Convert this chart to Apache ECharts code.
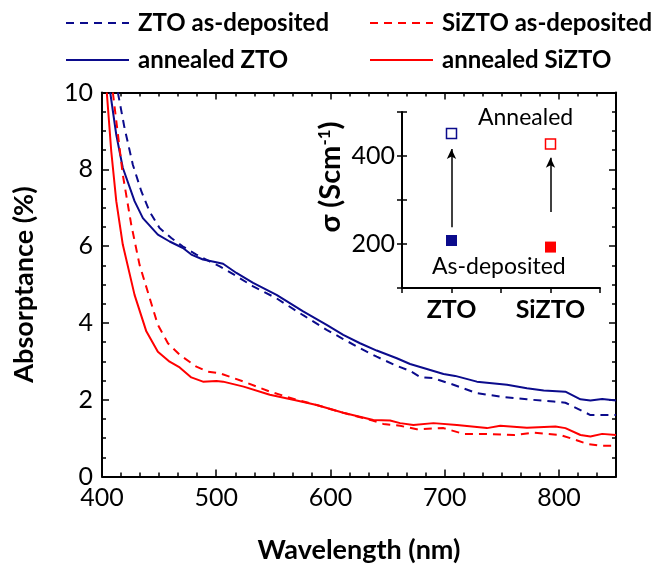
<!DOCTYPE html>
<html>
<head>
<meta charset="utf-8">
<script src="https://cdn.jsdelivr.net/npm/echarts@6/dist/echarts.min.js"></script>
<style>
  html, body { margin: 0; padding: 0; background: #fff; }
  #chart { width: 655px; height: 569px; }
</style>
</head>
<body>
<div id="chart"></div>
<script>
// Absorptance spectra (wavelength in nm, absorptance in %)
const ztoDepWl  = [413.9, 419.7, 427, 434.4, 441.7, 450.4, 460.7, 470.9, 482.6, 494.3, 503.1, 517.7, 532.3, 552.8, 576.1, 596.7, 611.2, 625.9, 640.5, 658.1, 669.7, 678.5, 690.2, 707.7, 728.2, 748.7, 772, 795.4, 805.7, 818.9, 827.6, 850];
const ztoDepAbs = [10.0, 9.08, 8.12, 7.43, 6.90, 6.47, 6.21, 5.99, 5.78, 5.60, 5.47, 5.22, 4.95, 4.64, 4.20, 3.82, 3.58, 3.34, 3.12, 2.88, 2.75, 2.59, 2.56, 2.39, 2.17, 2.08, 2.01, 1.95, 1.92, 1.73, 1.60, 1.60];

const ztoAnnWl  = [407.2, 412.5, 418.2, 428.5, 435.8, 448.9, 459.2, 470.9, 478.2, 488.4, 500, 506, 517.7, 532.3, 552.8, 576.1, 596.7, 611.2, 625.9, 640.5, 658.1, 669.7, 684.4, 699, 709.2, 728.2, 754.6, 772, 786.7, 805.7, 818.9, 827.6, 837.9, 850];
const ztoAnnAbs = [10.0, 8.90, 8.04, 7.17, 6.73, 6.30, 6.12, 5.95, 5.78, 5.65, 5.58, 5.54, 5.30, 5.04, 4.73, 4.30, 3.95, 3.69, 3.47, 3.28, 3.08, 2.93, 2.80, 2.67, 2.62, 2.47, 2.39, 2.30, 2.24, 2.21, 2.01, 1.98, 2.02, 1.98];

const siztoDepWl  = [409.5, 418.2, 425.6, 432.9, 441.7, 448.9, 457.7, 468, 482.6, 492.8, 503.1, 524, 546.9, 570.4, 587.9, 611.2, 637.5, 646.3, 661, 675.6, 699, 716.5, 737, 760.4, 778, 801.3, 813, 824.7, 836.4, 850];
const siztoDepAbs = [10.0, 7.86, 6.56, 5.51, 4.65, 3.95, 3.47, 3.17, 2.86, 2.73, 2.69, 2.47, 2.21, 2.00, 1.86, 1.66, 1.45, 1.37, 1.32, 1.23, 1.26, 1.11, 1.11, 1.08, 1.14, 1.08, 0.97, 0.85, 0.80, 0.80];

const siztoAnnWl  = [404.2, 408.1, 412.5, 418.2, 428.5, 438.8, 448.9, 459.2, 468, 478.2, 488.4, 500.2, 506, 524, 546.9, 570.4, 587.9, 611.2, 637.5, 652.2, 661, 672.6, 690.2, 710.7, 737, 748.7, 772, 797, 805.7, 818.9, 827.6, 837.9, 850];
const siztoAnnAbs = [10.0, 8.47, 7.17, 6.04, 4.73, 3.78, 3.25, 2.99, 2.84, 2.58, 2.47, 2.49, 2.47, 2.34, 2.13, 1.98, 1.86, 1.66, 1.47, 1.46, 1.39, 1.34, 1.39, 1.34, 1.26, 1.32, 1.27, 1.30, 1.26, 1.08, 1.04, 1.11, 1.08];

// Conductivity inset (S/cm)
const samples        = ['ZTO', 'SiZTO'];
const sigmaDeposited = [208, 193];
const sigmaAnnealed  = [451, 427];
const arrowFrom      = [238, 273];
const arrowTo        = [416, 396];

const NAVY = '#0b0b8c';
const RED = '#ff0000';
const FONT = 'Lato';

const pairs = (xs, ys) => xs.map((x, i) => [x, ys[i]]);

const chart = echarts.init(document.getElementById('chart'), null, { renderer: 'canvas' });

const boxAxisLine = { show: true, onZero: false, lineStyle: { color: '#000', width: 2 } };
const tickLabel = { fontFamily: FONT, fontSize: 25, color: '#000' };

function lineSeries(name, wl, abs, color, dashed) {
  return {
    name, type: 'line', xAxisIndex: 0, yAxisIndex: 0,
    data: pairs(wl, abs),
    symbol: 'none', smooth: false, clip: true,
    lineStyle: { color, width: 2, type: dashed ? [8, 6] : 'solid' },
    itemStyle: { color },
    z: 3
  };
}

// one legend per entry so the two columns line up
function legendAt(name, left, top) {
  return {
    data: [name], left, top, padding: 0,
    itemWidth: 63, itemHeight: 14,
    itemStyle: { opacity: 0 },
    textStyle: { fontFamily: FONT, fontSize: 24, fontWeight: 'bold', color: '#000', padding: [0, 0, 0, 4] },
    selectedMode: false
  };
}

const option = {
  animation: false,
  backgroundColor: '#fff',
  legend: [
    legendAt('ZTO as-deposited', 65, 11),
    legendAt('annealed ZTO', 65, 48),
    legendAt('SiZTO as-deposited', 369, 11),
    legendAt('annealed SiZTO', 369, 48)
  ],
  grid: [
    { left: 102, top: 92.5, width: 514, height: 384, containLabel: false },
    { left: 402, top: 112, width: 198, height: 176, containLabel: false }
  ],
  xAxis: [
    {
      gridIndex: 0, type: 'value', position: 'bottom', min: 400, max: 850, interval: 100,
      axisLine: boxAxisLine,
      axisTick: { show: true, inside: true, length: 7, lineStyle: { color: '#000', width: 1.5 } },
      minorTick: { show: true, splitNumber: 6, length: 4, lineStyle: { color: '#000', width: 1.5 } },
      splitLine: { show: false }, minorSplitLine: { show: false },
      axisLabel: Object.assign({ margin: 9, formatter: v => (v % 100 === 0 ? String(v) : '') }, tickLabel),
      name: 'Wavelength (nm)', nameLocation: 'middle', nameGap: 60,
      nameTextStyle: { fontFamily: FONT, fontSize: 27, fontWeight: 'bold', color: '#000' }
    },
    {
      gridIndex: 0, type: 'value', position: 'top', min: 400, max: 850, interval: 100,
      axisLine: boxAxisLine,
      axisTick: { show: true, inside: true, length: 7, lineStyle: { color: '#000', width: 1.5 } },
      minorTick: { show: true, splitNumber: 6, length: 4, lineStyle: { color: '#000', width: 1.5 } },
      splitLine: { show: false }, axisLabel: { show: false }
    },
    {
      gridIndex: 1, type: 'value', position: 'bottom', min: 0.5, max: 2.5, interval: 0.5,
      axisLine: boxAxisLine,
      axisTick: { show: true, inside: false, length: 5, lineStyle: { color: '#000', width: 1.5 } },
      splitLine: { show: false },
      axisLabel: {
        margin: 9, fontFamily: FONT, fontSize: 25, fontWeight: 'bold', color: '#000',
        formatter: v => (Number.isInteger(v) && samples[v - 1] ? samples[v - 1] : '')
      }
    }
  ],
  yAxis: [
    {
      gridIndex: 0, type: 'value', position: 'left', min: 0, max: 10, interval: 2,
      axisLine: boxAxisLine,
      axisTick: { show: true, inside: true, length: 7, lineStyle: { color: '#000', width: 1.5 } },
      minorTick: { show: true, splitNumber: 4, length: 4, lineStyle: { color: '#000', width: 1.5 } },
      splitLine: { show: false },
      axisLabel: Object.assign({ margin: 9 }, tickLabel),
      name: 'Absorptance (%)', nameLocation: 'middle', nameGap: 64,
      nameTextStyle: { fontFamily: FONT, fontSize: 27, fontWeight: 'bold', color: '#000' }
    },
    {
      gridIndex: 0, type: 'value', position: 'right', min: 0, max: 10, interval: 2,
      axisLine: boxAxisLine,
      axisTick: { show: true, inside: true, length: 7, lineStyle: { color: '#000', width: 1.5 } },
      minorTick: { show: true, splitNumber: 4, length: 4, lineStyle: { color: '#000', width: 1.5 } },
      splitLine: { show: false }, axisLabel: { show: false }
    },
    {
      gridIndex: 1, type: 'value', position: 'left', min: 100, max: 500, interval: 100,
      axisLine: boxAxisLine,
      axisTick: { show: true, inside: false, length: 5, lineStyle: { color: '#000', width: 1.5 } },
      splitLine: { show: false },
      axisLabel: {
        margin: 7, fontFamily: FONT, fontSize: 25, color: '#000',
        formatter: v => (v === 200 || v === 400 ? String(v) : '')
      }
    },
    {
      gridIndex: 1, type: 'value', position: 'left', min: 100, max: 500, interval: 100,
      axisLine: { show: false },
      axisTick: { show: true, inside: true, length: 5, lineStyle: { color: '#000', width: 1.5 } },
      splitLine: { show: false }, axisLabel: { show: false }
    }
  ],
  series: [
    lineSeries('ZTO as-deposited', ztoDepWl, ztoDepAbs, NAVY, true),
    lineSeries('annealed ZTO', ztoAnnWl, ztoAnnAbs, NAVY, false),
    lineSeries('SiZTO as-deposited', siztoDepWl, siztoDepAbs, RED, true),
    lineSeries('annealed SiZTO', siztoAnnWl, siztoAnnAbs, RED, false),
    {
      name: 'sigma deposited', type: 'scatter', xAxisIndex: 2, yAxisIndex: 2,
      symbol: 'rect', symbolSize: 11,
      data: sigmaDeposited.map((s, i) => ({ value: [i + 1, s], itemStyle: { color: i === 0 ? NAVY : RED, opacity: 1 } })),
      z: 5
    },
    {
      name: 'sigma annealed', type: 'scatter', xAxisIndex: 2, yAxisIndex: 2,
      symbol: 'rect', symbolSize: 10,
      data: sigmaAnnealed.map((s, i) => ({
        value: [i + 1, s],
        itemStyle: { color: '#fff', borderColor: i === 0 ? NAVY : RED, borderWidth: 1.5, opacity: 1 }
      })),
      markLine: {
        silent: true, symbol: ['none', 'arrow'], symbolSize: [7, 10],
        label: { show: false },
        lineStyle: { color: '#000', width: 1.5, type: 'solid' },
        data: arrowFrom.map((a, i) => [{ coord: [i + 1, a] }, { coord: [i + 1, arrowTo[i]] }])
      },
      z: 5
    }
  ],
  graphic: [
    {
      type: 'text', left: 478, top: 106, z: 10,
      style: { text: 'Annealed', font: '23px Lato', fill: '#000' }
    },
    {
      type: 'text', left: 432, top: 255, z: 10,
      style: { text: 'As-deposited', font: '23px Lato', fill: '#000' }
    },
    {
      type: 'text', x: 331, y: 177, rotation: Math.PI / 2, z: 10,
      style: {
        text: '{b|σ (Scm}{s|-1}{b|)}',
        align: 'center', verticalAlign: 'middle',
        rich: {
          b: { fontFamily: FONT, fontSize: 29, fontWeight: 'bold', fill: '#000', color: '#000' },
          s: { fontFamily: FONT, fontSize: 17, fontWeight: 'bold', fill: '#000', color: '#000', verticalAlign: 'top' }
        }
      }
    }
  ]
};

chart.setOption(option);
</script>
</body>
</html>
